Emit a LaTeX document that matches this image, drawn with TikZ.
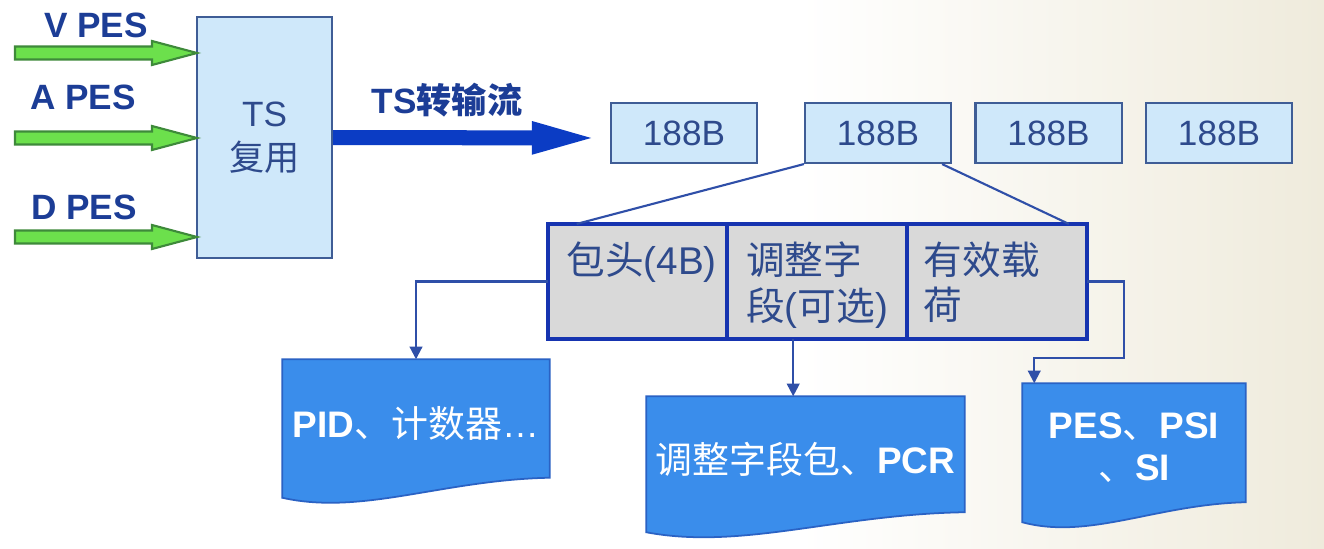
\documentclass[tikz,border=0pt]{standalone}
\usepackage{fontspec}
\setmainfont{Liberation Sans}
\newfontfamily\cjk{Noto Sans CJK SC}
\newcommand{\zh}[1]{{\cjk #1}}
\usepackage{tikz}
\usetikzlibrary{arrows.meta,positioning,calc,backgrounds}
\definecolor{tsfill}{HTML}{CFE8FA}
\definecolor{tsline}{HTML}{3F5D96}
\definecolor{tstext}{HTML}{2E4A8C}
\definecolor{lblblue}{HTML}{1C3D96}
\definecolor{flowblue}{HTML}{0B3CC4}
\definecolor{pesfill}{HTML}{6CE04C}
\definecolor{pesline}{HTML}{3E8A3A}
\definecolor{cellfill}{HTML}{D9D9D9}
\definecolor{cellline}{HTML}{1634B0}
\definecolor{linkblue}{HTML}{2F4FA8}
\definecolor{docblue}{HTML}{3A8DEB}
\definecolor{docline}{HTML}{2A62C4}
\definecolor{bgbeige}{HTML}{EFEBDC}
\tikzset{
  pesname/.style={text=lblblue,font=\bfseries\fontsize{10}{12}\selectfont},
  pkt/.style={draw=tsline,fill=tsfill,line width=0.6pt,minimum width=1.46cm,
    minimum height=0.6cm,text=tstext,font=\fontsize{10}{12}\selectfont},
  cell/.style={draw=cellline,fill=cellfill,line width=0.6pt,minimum width=1.775cm,
    minimum height=1.13cm,inner sep=0pt},
  celltext/.style={anchor=north west,inner sep=0pt,align=left,text=tstext,
    font=\fontsize{11}{13}\selectfont},
  link/.style={draw=linkblue,line width=0.6pt},
  linkarrow/.style={link,-{Triangle[width=3.6pt,length=3.6pt]}},
  flowarrow/.style={flowblue,line width=0.15cm,-{Triangle[width=0.28cm,length=0.7cm]}},
  docnode/.style={inner sep=0pt,text=white,align=center,font=\fontsize{10.5}{12}\selectfont},
  docbody/.style={fill=docblue,draw=docline,line width=0.5pt},
}
\newcommand{\pesarrow}[1]{%
  \filldraw[fill=pesfill,draw=pesline,line width=0.6pt]
    (15,#1-6.5) -- (152,#1-6.5) -- (152,#1-12) -- (197,#1) -- (152,#1+12)
    -- (152,#1+6.5) -- (15,#1+6.5) -- cycle;
}
\newcommand{\docshape}[1]{%
  \filldraw[docbody] (#1.north west) -- (#1.north east) -- ([yshift=0.1cm]#1.south east)
    .. controls ($(#1.south west)!0.6!(#1.south east)+(0,-8)$)
    and ($(#1.south west)!0.3!(#1.south east)+(0,28)$)
    .. ([yshift=-0.1cm]#1.south west) -- cycle;
}
\begin{document}
\begin{tikzpicture}[x=0.01cm,y=-0.01cm]
\useasboundingbox (0,0) rectangle (1324,548);
\node[draw=tsline,fill=tsfill,line width=0.6pt,minimum width=1.35cm,minimum height=2.41cm,
  text=tstext,align=center,font=\fontsize{10}{12.5}\selectfont] (mux) at (264.5,137.5) {TS\\\zh{复用}};
\pesarrow{53} \pesarrow{138} \pesarrow{237}
\node[pesname] (vlbl) at (96,25) {V PES};
\node[pesname] (albl) at (83,97) {A PES};
\node[pesname] (dlbl) at (84,207) {D PES};
\coordinate (flowend) at (602,138);
\draw[flowarrow] (mux.east) -- (flowend);
\node[pesname] (tslbl) at (447,100) {TS\zh{转输流}};
\node[pkt] (pkt1) at (684,133) {188B};
\node[pkt] (pkt2) at (878,133) {188B};
\node[pkt] (pkt3) at (1048.5,133) {188B};
\node[pkt] (pkt4) at (1219,133) {188B};
\node[cell] (hdr) at (637.5,281.5) {};
\node[cell,right=0cm of hdr] (adp) {};
\node[cell,right=0cm of adp] (pay) {};
\draw[cellline,line width=1.2pt] (hdr.north west) rectangle (pay.south east);
\node[celltext] (hdrtxt) at ([xshift=0.18cm,yshift=-0.17cm]hdr.north west) {\zh{包头}(4B)};
\node[celltext] (adptxt) at ([xshift=0.18cm,yshift=-0.17cm]adp.north west) {\zh{调整字}\\\zh{段}(\zh{可选})};
\node[celltext] (paytxt) at ([xshift=0.16cm,yshift=-0.17cm]pay.north west) {\zh{有效载}\\\zh{荷}};
\draw[link] (pkt2.south west) -- ([xshift=0.29cm]hdr.north west);
\draw[link] ([xshift=-0.1cm]pkt2.south east) -- ([xshift=-0.18cm]pay.north east);
\node[docnode,minimum width=2.66cm,minimum height=1.27cm] (pid) at (416,423.5)
  {\textbf{PID}\zh{、计数器}…};
\node[docnode,minimum width=3.17cm,minimum height=1.245cm] (pcr) at (805.5,459.25)
  {\zh{调整字段包、}\textbf{PCR}};
\node[docnode,minimum width=2.22cm,minimum height=1.275cm] (pes) at (1134,447.75)
  {\textbf{PES}\zh{、}\textbf{PSI}\\\zh{、}\textbf{SI}};
\coordinate (adpout) at ([xshift=-0.24cm]adp.south);
\draw[linkarrow] (hdr.west) -| (pid.north);
\draw[linkarrow] (adpout) -- (adpout |- pcr.north);
\draw[linkarrow] (pay.east) -- ++(37,0) |- ([xshift=0.12cm,yshift=0.25cm]pes.north west)
  -- ([xshift=0.12cm]pes.north west);
\begin{pgfonlayer}{background}
\fill[white] (0,0) rectangle (1324,548);
\shade[left color=white,right color=bgbeige] (800,0) rectangle (1324,548);
\docshape{pid} \docshape{pcr} \docshape{pes}
\end{pgfonlayer}
\end{tikzpicture}
\end{document}
